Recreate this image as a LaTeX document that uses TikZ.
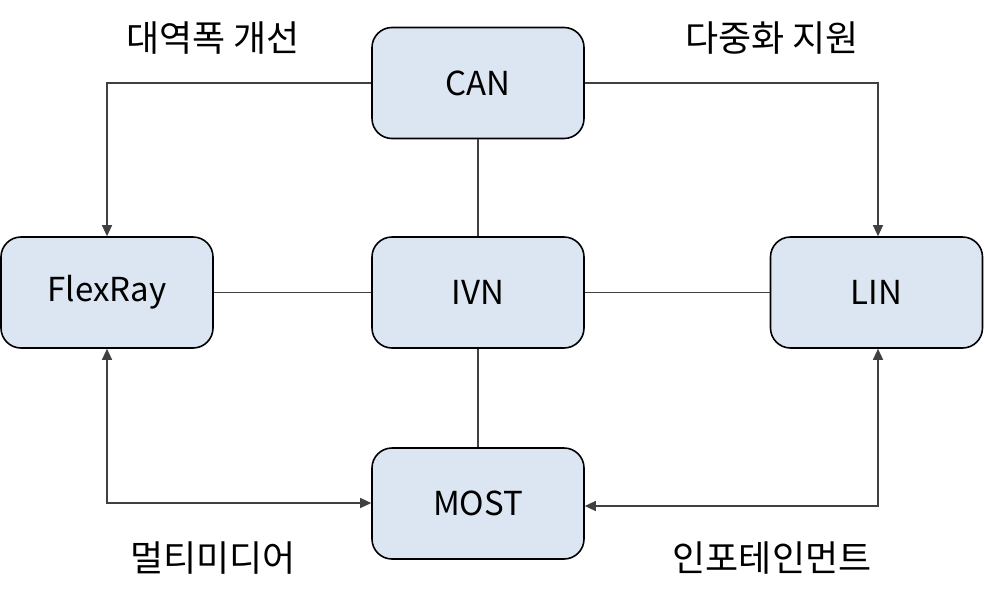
\documentclass[tikz,border=0pt]{standalone}
\usepackage{fontspec}
\setmainfont{Noto Sans CJK KR}
\usetikzlibrary{arrows.meta}
\begin{document}
\begin{tikzpicture}[x=1pt,y=-1pt,
  box/.style={draw=black, line width=1.6pt, fill=boxfill, rounded corners=20pt,
    minimum width=212pt, minimum height=111pt, inner sep=0pt, font=\fontsize{33}{38}\selectfont},
  conn/.style={draw=black!75, line width=1.2pt},
  arr/.style={-{Triangle[length=11pt,width=10pt]}},
  darr/.style={{Triangle[length=11pt,width=10pt]}-{Triangle[length=11pt,width=10pt]}},
  lbl/.style={font=\fontsize{36}{40}\selectfont, inner sep=0pt}]
\definecolor{boxfill}{HTML}{DCE6F2}
\useasboundingbox (0,0) rectangle (984,600);
\node[box] (can) at (478,83) {CAN};
\node[box] (flex) at (107,292.5) {FlexRay};
\node[box] (ivn) at (478,292.5) {IVN};
\node[box] (lin) at (876.5,292.5) {LIN};
\node[box] (most) at (478,503.5) {MOST};
\coordinate (c1) at (107,83);
\coordinate (c2) at (878,83);
\coordinate (c3) at (107,503);
\coordinate (c4) at (878,506);
\draw[conn,arr] (can.west) -- (c1) -- (flex.north -| c1);
\draw[conn,arr] (can.east) -- (c2) -- (lin.north -| c2);
\draw[conn] (can.south) -- (ivn.north);
\draw[conn] (flex.east) -- (ivn.west);
\draw[conn] (ivn.east) -- (lin.west);
\draw[conn] (ivn.south) -- (most.north);
\draw[conn,darr] (flex.south -| c3) -- (c3) -- (most.west |- c3);
\draw[conn,darr] (lin.south -| c4) -- (c4) -- (most.east |- c4);
\node[lbl] (l1) at (213,38) {대역폭 개선};
\node[lbl] (l2) at (772,38) {다중화 지원};
\node[lbl] (l3) at (213,558) {멀티미디어};
\node[lbl] (l4) at (772,558) {인포테인먼트};
\end{tikzpicture}
\end{document}
